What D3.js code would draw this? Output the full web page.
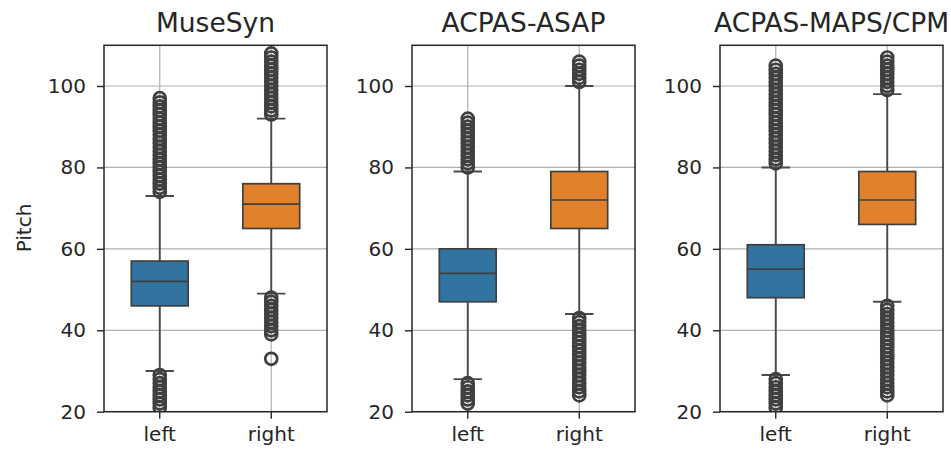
<!DOCTYPE html>
<html>
<head>
<meta charset="utf-8">
<script src="https://cdn.jsdelivr.net/npm/d3@7"></script>
<style>
  body { margin: 0; background: #fff; }
  text { font-family: "DejaVu Sans", sans-serif; fill: #262626; }
</style>
</head>
<body>
<svg width="951" height="452"></svg>
<script>
// one panel per dataset, two boxes (left / right hand) per panel
var datasets = ["MuseSyn", "ACPAS-ASAP", "ACPAS-MAPS/CPM"];
var hands = ["left", "right"];
var yTicks = [20, 40, 60, 80, 100];

// box stats, [left, right] for each dataset
var q1 = [[46, 65], [47, 65], [48, 66]];
var medians = [[52, 71], [54, 72], [55, 72]];
var q3 = [[57, 76], [60, 79], [61, 79]];
var whiskLo = [[30, 49], [28, 44], [29, 47]];
var whiskHi = [[73, 92], [79, 100], [80, 98]];

// outlier pitches
var outliers = [
  [[21, 22, 23, 24, 25, 26, 27, 28, 29,
    74, 75, 76, 77, 78, 79, 80, 81, 82, 83, 84, 85, 86, 87, 88, 89, 90, 91, 92, 93, 94, 95, 96, 97],
   [33, 39, 40, 41, 42, 43, 44, 45, 46, 47, 48,
    93, 94, 95, 96, 97, 98, 99, 100, 101, 102, 103, 104, 105, 106, 107, 108]],
  [[22, 23, 24, 25, 26, 27,
    80, 81, 82, 83, 84, 85, 86, 87, 88, 89, 90, 91, 92],
   [24, 25, 26, 27, 28, 29, 30, 31, 32, 33, 34, 35, 36, 37, 38, 39, 40, 41, 42, 43,
    101, 102, 103, 104, 105, 106]],
  [[21, 22, 23, 24, 25, 26, 27, 28,
    81, 82, 83, 84, 85, 86, 87, 88, 89, 90, 91, 92, 93, 94, 95, 96, 97, 98, 99, 100, 101, 102, 103, 104, 105],
   [24, 25, 26, 27, 28, 29, 30, 31, 32, 33, 34, 35, 36, 37, 38, 39, 40, 41, 42, 43, 44, 45, 46,
    99, 100, 101, 102, 103, 104, 105, 106, 107]]
];

var boxColors = ["#3274a1", "#e1812c"];
var lineColor = "#3f3f3f";

var svg = d3.select("svg");

var panelLeft = [104, 412, 720],
    panelWidth = 223,
    plotTop = 45.3,
    plotBottom = 411.7;

var y = d3.scaleLinear()
    .domain([20, 110])
    .range([plotBottom, plotTop]);

datasets.forEach(function(name, p) {
  var x = d3.scaleBand()
      .domain(hands)
      .range([panelLeft[p], panelLeft[p] + panelWidth]);

  var g = svg.append("g").attr("class", "panel");

  g.append("clipPath")
      .attr("id", "clip" + p)
    .append("rect")
      .attr("x", panelLeft[p])
      .attr("y", plotTop)
      .attr("width", panelWidth)
      .attr("height", plotBottom - plotTop);

  // grid
  g.append("g")
      .selectAll("line")
      .data(yTicks)
      .enter().append("line")
        .attr("x1", panelLeft[p])
        .attr("x2", panelLeft[p] + panelWidth)
        .attr("y1", function(d) { return y(d); })
        .attr("y2", function(d) { return y(d); })
        .attr("stroke", "#b0b0b0")
        .attr("stroke-width", 1.2);

  g.append("g")
      .selectAll("line")
      .data(hands)
      .enter().append("line")
        .attr("x1", function(d) { return x(d) + x.bandwidth() / 2; })
        .attr("x2", function(d) { return x(d) + x.bandwidth() / 2; })
        .attr("y1", plotTop)
        .attr("y2", plotBottom)
        .attr("stroke", "#b0b0b0")
        .attr("stroke-width", 1.2);

  var boxW = x.bandwidth() * 0.51,
      capW = boxW * 0.5;

  var boxes = g.append("g")
      .attr("clip-path", "url(#clip" + p + ")")
      .selectAll("g.box")
      .data(hands)
      .enter().append("g")
        .attr("class", "box");

  function cx(d) { return x(d) + x.bandwidth() / 2; }

  // whiskers
  boxes.append("line")
      .attr("x1", cx).attr("x2", cx)
      .attr("y1", function(d, i) { return y(q3[p][i]); })
      .attr("y2", function(d, i) { return y(whiskHi[p][i]); })
      .attr("stroke", "#4a4a4a").attr("stroke-width", 1.9);
  boxes.append("line")
      .attr("x1", cx).attr("x2", cx)
      .attr("y1", function(d, i) { return y(q1[p][i]); })
      .attr("y2", function(d, i) { return y(whiskLo[p][i]); })
      .attr("stroke", "#4a4a4a").attr("stroke-width", 1.9);

  // caps
  [whiskHi, whiskLo].forEach(function(arr) {
    boxes.append("line")
        .attr("x1", function(d) { return cx(d) - capW / 2; })
        .attr("x2", function(d) { return cx(d) + capW / 2; })
        .attr("y1", function(d, i) { return y(arr[p][i]); })
        .attr("y2", function(d, i) { return y(arr[p][i]); })
        .attr("stroke", "#4a4a4a").attr("stroke-width", 1.9);
  });

  // boxes
  boxes.append("rect")
      .attr("x", function(d) { return cx(d) - boxW / 2; })
      .attr("width", boxW)
      .attr("y", function(d, i) { return y(q3[p][i]); })
      .attr("height", function(d, i) { return y(q1[p][i]) - y(q3[p][i]); })
      .attr("fill", function(d, i) { return boxColors[i]; })
      .attr("stroke", lineColor)
      .attr("stroke-width", 1.7);

  // medians
  boxes.append("line")
      .attr("x1", function(d) { return cx(d) - boxW / 2; })
      .attr("x2", function(d) { return cx(d) + boxW / 2; })
      .attr("y1", function(d, i) { return y(medians[p][i]); })
      .attr("y2", function(d, i) { return y(medians[p][i]); })
      .attr("stroke", lineColor).attr("stroke-width", 1.7);

  // fliers
  boxes.each(function(d, i) {
    d3.select(this).selectAll("circle")
        .data(outliers[p][i])
        .enter().append("circle")
          .attr("cx", cx(d))
          .attr("cy", function(v) { return y(v); })
          .attr("r", 6)
          .attr("fill", "none")
          .attr("stroke", lineColor)
          .attr("stroke-width", 2.7);
  });

  // axes
  var yAxis = d3.axisLeft(y).tickValues(yTicks).tickSize(7).tickPadding(11);
  var xAxis = d3.axisBottom(x).tickSize(7).tickPadding(8);

  var ya = g.append("g")
      .attr("transform", "translate(" + panelLeft[p] + ",0)")
      .call(yAxis);
  var xa = g.append("g")
      .attr("transform", "translate(0," + plotBottom + ")")
      .call(xAxis);

  [ya, xa].forEach(function(a) {
    a.select(".domain").remove();
    a.selectAll("line").attr("stroke", "#262626").attr("stroke-width", 1.4);
    a.selectAll("text")
        .style("font-size", "20px")
        .style("font-family", "DejaVu Sans, sans-serif")
        .attr("fill", "#262626");
  });

  // spines
  g.append("rect")
      .attr("x", panelLeft[p])
      .attr("y", plotTop)
      .attr("width", panelWidth)
      .attr("height", plotBottom - plotTop)
      .attr("fill", "none")
      .attr("stroke", "#262626")
      .attr("stroke-width", 1.5);

  g.append("text")
      .attr("x", panelLeft[p] + panelWidth / 2)
      .attr("y", 32)
      .attr("text-anchor", "middle")
      .style("font-size", "26.5px")
      .text(name);
});

svg.append("text")
    .attr("transform", "translate(31,228) rotate(-90)")
    .attr("text-anchor", "middle")
    .style("font-size", "20px")
    .text("Pitch");
</script>
</body>
</html>
